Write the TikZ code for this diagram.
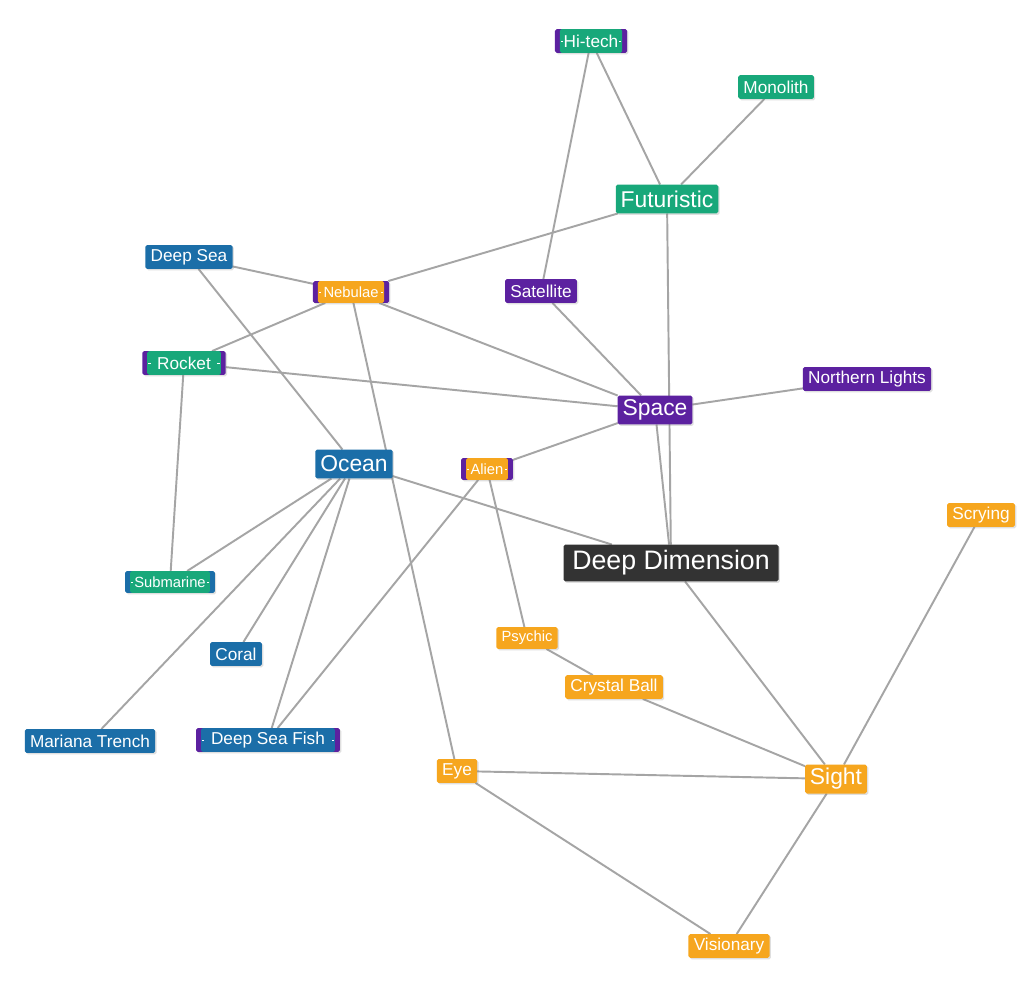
\documentclass[tikz,border=0pt]{standalone}
\usepackage{fontspec}
\setmainfont{Liberation Sans}
\usetikzlibrary{backgrounds, shadows}
\definecolor{mygreen}{RGB}{24,168,122}
\definecolor{myblue}{RGB}{27,110,168}
\definecolor{mypurple}{RGB}{92,33,160}
\definecolor{myorange}{RGB}{246,166,30}
\definecolor{mydark}{RGB}{51,51,51}
\definecolor{linkgray}{RGB}{165,165,165}
\tikzstyle{tag} = [draw=none, outer sep=0, inner ysep=0, rounded corners=1pt,
    text=white, drop shadow={opacity=0.25, shadow xshift=0.8pt, shadow yshift=-0.8pt}]
\tikzstyle{tagsmall} = [tag, font=\fontsize{8.4}{9}\selectfont,
    minimum height=12.5pt, inner xsep=3pt]
\tikzstyle{tagnormal} = [tag, font=\fontsize{9.8}{11}\selectfont,
    minimum height=13.6pt, inner xsep=3pt]
\tikzstyle{tagmid} = [tag, font=\fontsize{13}{14}\selectfont,
    minimum height=16.5pt, inner xsep=2.8pt]
\tikzstyle{tagbig} = [tag, font=\fontsize{15.2}{17}\selectfont,
    minimum height=21pt, inner xsep=5pt]
\tikzstyle{link} = [draw=linkgray, line width=1.1pt]
% inner colour #1, side colour #2
\tikzset{twotone/.style 2 args={fill=#2, inner xsep=6pt, path picture={
    \fill[#1] ([xshift=2.8pt]path picture bounding box.south west)
        rectangle ([xshift=-2.8pt]path picture bounding box.north east);
    \draw[white, line width=0.5pt]
        ([xshift=3.3pt]path picture bounding box.west) -- ++(1.4pt,0)
        ([xshift=-3.3pt]path picture bounding box.east) -- ++(-1.4pt,0);}}}

\begin{document}
\begin{tikzpicture}[x=0.02cm, y=-0.02cm]
\useasboundingbox (0,0) rectangle (1024,983);

%%% top: futuristic things
\node[tagnormal, twotone={mygreen}{mypurple}, inner xsep=5pt] (hitech) at (591,41) {Hi-tech};
\node[tagnormal, fill=mygreen] (monolith) at (776,87) {Monolith};
\node[tagmid, fill=mygreen] (futuristic) at (667,199) {Futuristic};
\node[tagnormal, fill=mypurple] (satellite) at (541,291) {Satellite};
\node[tagsmall, twotone={myorange}{mypurple}] (nebulae) at (351,292) {Nebulae};
\node[tagnormal, fill=myblue] (deepsea) at (189,257) {Deep Sea};
\node[tagnormal, twotone={mygreen}{mypurple}, inner xsep=8.5pt] (rocket) at (184,363) {Rocket};
\node[tagnormal, fill=mypurple] (northern) at (867,379) {Northern Lights};

%%% middle
\node[tagmid, fill=mypurple] (space) at (655,410) {Space};
\node[tagmid, fill=myblue] (ocean) at (354,464) {Ocean};
\node[tagsmall, twotone={myorange}{mypurple}, inner xsep=5.4pt] (alien) at (487,469) {Alien};
\node[tagbig, fill=mydark] (deepdim) at (671,563) {Deep Dimension};
\node[tagnormal, fill=myorange] (scrying) at (981,515) {Scrying};

%%% lower left: sea things
\node[tagsmall, twotone={mygreen}{myblue}, inner xsep=5.2pt] (submarine) at (170,582) {Submarine};
\node[tagnormal, fill=myblue] (coral) at (236,654) {Coral};
\node[tagnormal, fill=myblue] (mariana) at (90,741) {Mariana Trench};
\node[tagnormal, twotone={myblue}{mypurple}, inner xsep=8.5pt] (deepfish) at (268,740) {Deep Sea Fish};

%%% lower right: seeing things
\node[tagsmall, fill=myorange] (psychic) at (527,638) {Psychic};
\node[tagnormal, fill=myorange] (crystal) at (614,687) {Crystal Ball};
\node[tagnormal, fill=myorange] (eye) at (457,771) {Eye};
\node[tagmid, fill=myorange] (sight) at (836,779) {Sight};
\node[tagnormal, fill=myorange] (visionary) at (729,946) {Visionary};

%%% links
\begin{scope}[on background layer]
\fill[white] (0,0) rectangle (1024,983);
\draw[link] (hitech) -- (satellite);
\draw[link] (hitech) -- (futuristic);
\draw[link] (monolith) -- (futuristic);
\draw[link] (futuristic) -- (nebulae);
\draw[link] (futuristic) -- (deepdim);
\draw[link] (deepsea) -- (nebulae);
\draw[link] (deepsea) -- (ocean);
\draw[link] (nebulae) -- (rocket);
\draw[link] (nebulae) -- (space);
\draw[link] (nebulae) -- (eye);
\draw[link] (satellite) -- (space);
\draw[link] (rocket) -- (space);
\draw[link] (rocket) -- (submarine);
\draw[link] (northern) -- (space);
\draw[link] (space) -- (alien);
\draw[link] (space) -- (deepdim);
\draw[link] (ocean) -- (deepdim);
\draw[link] (ocean) -- (submarine);
\draw[link] (ocean) -- (coral);
\draw[link] (ocean) -- (mariana);
\draw[link] (ocean) -- (deepfish);
\draw[link] (alien) -- (deepfish);
\draw[link] (alien) -- (psychic);
\draw[link] (psychic) -- (crystal);
\draw[link] (crystal) -- (sight);
\draw[link] (deepdim) -- (sight);
\draw[link] (scrying) -- (sight);
\draw[link] (eye) -- (sight);
\draw[link] (eye) -- (visionary);
\draw[link] (sight) -- (visionary);
\end{scope}

\end{tikzpicture}
\end{document}
